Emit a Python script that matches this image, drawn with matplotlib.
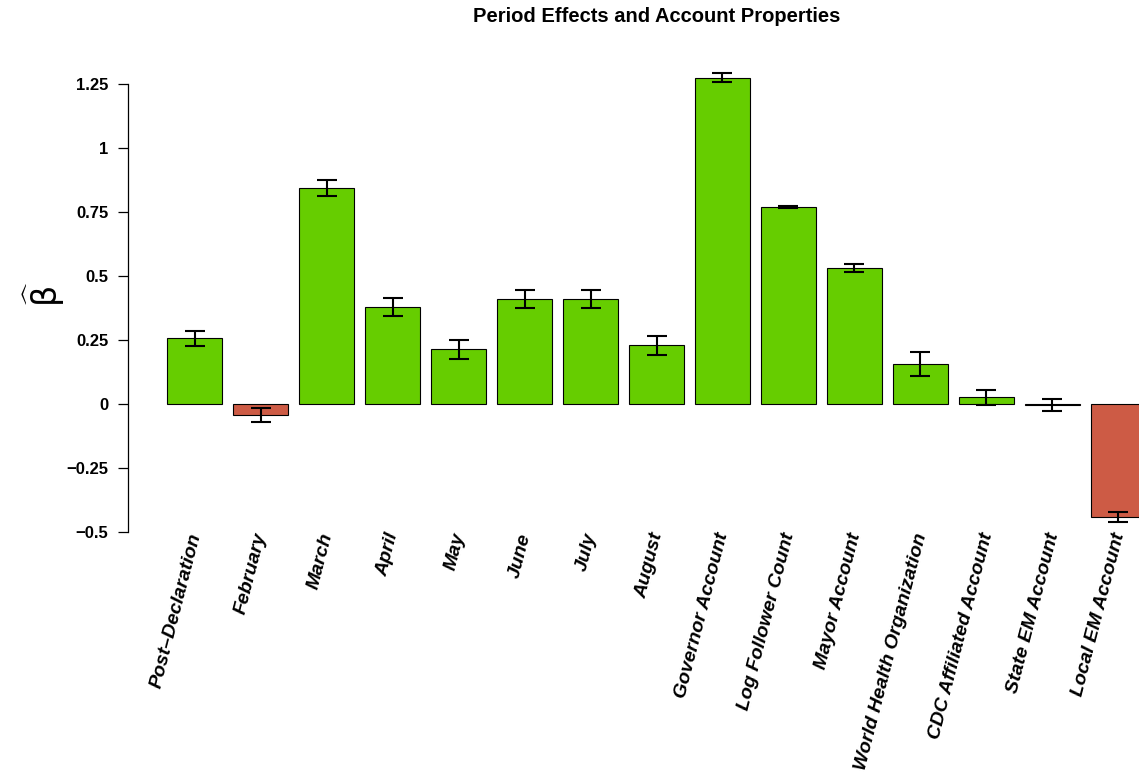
import numpy as np
import matplotlib
matplotlib.use("Agg")
import matplotlib.pyplot as plt

# Coefficient estimates and error-bar half-widths
terms = ["Post\u2013Declaration", "February", "March", "April", "May", "June",
         "July", "August", "Governor Account", "Log Follower Count",
         "Mayor Account", "World Health Organization", "CDC Affiliated Account",
         "State EM Account", "Local EM Account"]
beta = [0.256, -0.043, 0.843, 0.379, 0.213, 0.411, 0.410, 0.229, 1.275,
        0.770, 0.531, 0.157, 0.026, -0.003, -0.441]
err = [0.028, 0.027, 0.030, 0.037, 0.036, 0.036, 0.035, 0.037, 0.019,
       0.003, 0.016, 0.047, 0.030, 0.024, 0.019]
yticks = [-0.5, -0.25, 0, 0.25, 0.5, 0.75, 1, 1.25]
yticklabels = ["\u22120.5", "\u22120.25", "0", "0.25", "0.5", "0.75", "1", "1.25"]

pos_col = "#66CD00"
neg_col = "#CD5B45"

W, H = 1139, 780
fig = plt.figure(figsize=(W / 100, H / 100), dpi=100)
plt.rcParams["font.family"] = ["Liberation Sans", "DejaVu Sans"]
plt.rcParams["mathtext.fontset"] = "dejavusans"

# plot region (pixels): x 128..1185, y 66..550
left, right, top, bottom = 128, 1185, 66, 550
ax = fig.add_axes([left / W, 1 - bottom / H, (right - left) / W, (bottom - top) / H])

n = len(terms)
centers = 0.7 + 1.2 * np.arange(n)
cols = [pos_col if b >= 0 else neg_col for b in beta]
ax.bar(centers, beta, width=1.0, color=cols, edgecolor="black", linewidth=0.8, zorder=2)
ax.errorbar(centers, beta, yerr=err, fmt="none", ecolor="black", elinewidth=1.5,
            capsize=7.2, capthick=1.5, zorder=3)

xmin, xmax = 0.2, 1.2 * n
pad = 0.04 * (xmax - xmin)
ax.set_xlim(xmin - pad, xmax + pad)
ax.set_ylim(-0.57, 1.32)

for s in ["top", "right", "bottom"]:
    ax.spines[s].set_visible(False)
ax.spines["left"].set_bounds(-0.5, 1.25)
ax.spines["left"].set_linewidth(0.9)
ax.set_xticks([])
ax.set_yticks(yticks)
ax.set_yticklabels(yticklabels, fontsize=12, fontweight="bold")
ax.tick_params(axis="y", length=7.2, width=0.9, pad=7)

for c, t in zip(centers, terms):
    ax.text(c + 0.02, -0.505, t, rotation=75.5, rotation_mode="anchor",
            ha="right", va="center", fontsize=14, fontweight="bold",
            fontstyle="italic", clip_on=False)

fig.text((left + right) / 2 / W, 1 - 17 / H, "Period Effects and Account Properties",
         ha="center", va="center", fontsize=14.5, fontweight="bold")

# y-axis label: beta-hat
fig.text(44 / W, 1 - 294 / H, r"$\widehat{\mathrm{\beta}}$", rotation=90, ha="center",
         va="center", fontsize=24)

fig.savefig("out.png", dpi=100)
